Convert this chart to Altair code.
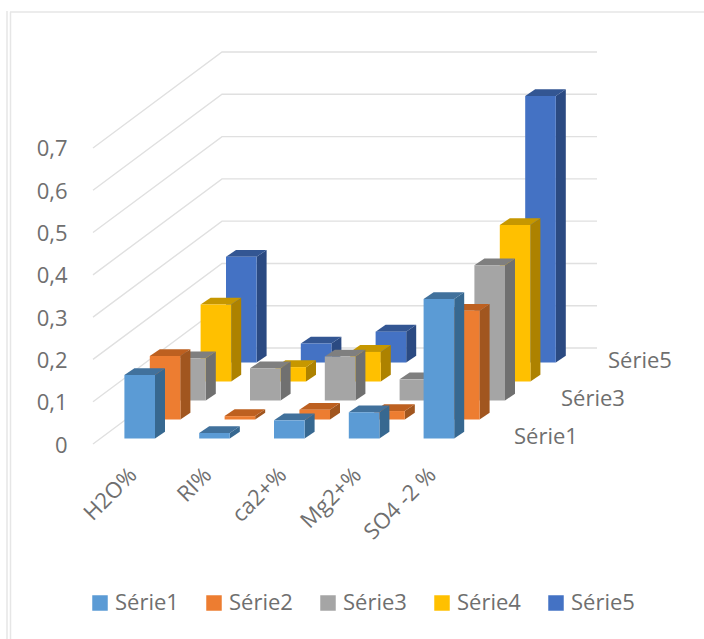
import altair as alt
import pandas as pd

# Percentages per analyte, one list per series
CATEGORIES = ["H2O%", "RI%", "ca2+%", "Mg2+%", "SO4 -2 %"]
SERIES = ["Série1", "Série2", "Série3", "Série4", "Série5"]
SERIE1 = [0.15, 0.013, 0.043, 0.062, 0.33]
SERIE2 = [0.15, 0.008, 0.023, 0.02, 0.257]
SERIE3 = [0.10, 0.076, 0.104, 0.05, 0.32]
SERIE4 = [0.182, 0.034, 0.07, 0.04, 0.37]
SERIE5 = [0.25, 0.045, 0.073, 0.05, 0.63]
VALUES = [SERIE1, SERIE2, SERIE3, SERIE4, SERIE5]
DEPTH_LABELS = ["Série1", "Série3", "Série5"]
Y_TICKS = [0, 0.1, 0.2, 0.3, 0.4, 0.5, 0.6, 0.7]

FRONT = ["#5b9bd5", "#ed7d31", "#a5a5a5", "#ffc000", "#4472c4"]
SIDE = ["#376890", "#a1561f", "#707070", "#ad8200", "#2b4a82"]
TOP = ["#41719c", "#bd6020", "#7f7f7f", "#c69700", "#335693"]
GRID = "#e0e0e0"
TEXT = "#6f6f6f"
FONT = "Open Sans"
FONT_SIZE = 22

# Oblique projection, in axis units: one category across, value units upward
PLOT_W, PLOT_H = 504, 392
PX_X = 1 / 74.8            # horizontal axis units per pixel
PX_Y = 1 / 423             # value units per pixel
BAR_W = 30.6 * PX_X
FIRST_X = 31.4 * PX_X
STEP_DX, STEP_DY = 25.4 * PX_X, 19 * PX_Y   # shift between series rows
GAP_DY = 5.5 * PX_Y                         # floor gap in front of a row
BAR_DX, BAR_DY = 10 * PX_X, 6.8 * PX_Y      # depth of a bar
WALL_DX, WALL_DY = 129 * PX_X, 96 * PX_Y    # floor depth up to the back wall
X_MAX = PLOT_W * PX_X
Y_MAX = max(Y_TICKS) + WALL_DY

x_scale = alt.Scale(domain=[0, X_MAX], nice=False, zero=False)
y_scale = alt.Scale(domain=[0, Y_MAX], nice=False, zero=False)
color_scale = alt.Scale(domain=SERIES, range=FRONT)

front_rows, side_rows, top_rows = [], [], []
for s, name in enumerate(SERIES):
    for c, cat in enumerate(CATEGORIES):
        v = VALUES[s][c]
        x0 = FIRST_X + c + s * STEP_DX
        x1 = x0 + BAR_W
        base = GAP_DY + s * STEP_DY
        top = base + v
        front_rows.append(dict(serie=name, cat=cat, x=x0, x2=x1, y=base, y2=top))
        side_rows.append(dict(serie=name, cat=cat, x=x1, y=base, y2=top))
        side_rows.append(dict(serie=name, cat=cat, x=x1 + BAR_DX, y=base + BAR_DY, y2=top + BAR_DY))
        top_rows.append(dict(serie=name, cat=cat, y=top, x=x0, x2=x1))
        top_rows.append(dict(serie=name, cat=cat, y=top + BAR_DY, x=x0 + BAR_DX, x2=x1 + BAR_DX))
front_df = pd.DataFrame(front_rows)
side_df = pd.DataFrame(side_rows)
top_df = pd.DataFrame(top_rows)

X = alt.X("x:Q", scale=x_scale, axis=None)
Y = alt.Y("y:Q", scale=y_scale, axis=None)

# Wall gridlines: along the left wall, then across the back wall
grid_rows = []
for i, t in enumerate(Y_TICKS):
    grid_rows += [
        dict(tick=t, order=0, x=0, y=t),
        dict(tick=t, order=1, x=WALL_DX, y=t + WALL_DY),
        dict(tick=t, order=2, x=X_MAX, y=t + WALL_DY),
    ]
grid = alt.Chart(pd.DataFrame(grid_rows)).mark_line(color=GRID, strokeWidth=1.4).encode(
    x=X, y=Y, detail="tick:N", order="order:Q",
)

# Value and category axes
label_array = "[" + ",".join(f"'{c}'" for c in CATEGORIES) + "]"
centres = [FIRST_X + BAR_W / 2 + c for c in range(len(CATEGORIES))]
axes = alt.Chart(pd.DataFrame({"x": centres, "y": [0.0] * len(centres)})).mark_point(opacity=0).encode(
    x=alt.X("x:Q", scale=x_scale, title=None, axis=alt.Axis(
        values=centres,
        labelExpr=f"{label_array}[round(datum.value - {centres[0]})]",
        labelAngle=-45, labelAlign="right", labelBaseline="middle",
        labelFont=FONT, labelFontSize=FONT_SIZE, labelColor=TEXT, labelPadding=27, labelOffset=-7,
        domain=False, ticks=False, grid=False, labelOverlap=False, labelBound=False, labelFlush=False)),
    y=alt.Y("y:Q", scale=y_scale, title=None, axis=alt.Axis(
        values=Y_TICKS,
        labelExpr="datum.value == 0 ? '0' : replace(format(datum.value, '.1f'), '.', ',')",
        labelFont=FONT, labelFontSize=FONT_SIZE, labelColor=TEXT, labelPadding=26, labelOffset=1,
        domain=False, ticks=False, grid=False)),
)

# Bars, painted from the back row to the front row
bar_layers = []
for s in reversed(range(len(SERIES))):
    name = SERIES[s]
    side = alt.Chart(side_df[side_df.serie == name]).mark_area(color=SIDE[s]).encode(
        x=X, y=Y, y2="y2:Q", detail="cat:N")
    top = alt.Chart(top_df[top_df.serie == name]).mark_area(color=TOP[s], orient="horizontal").encode(
        y=Y, x=X, x2="x2:Q", detail="cat:N")
    front = alt.Chart(front_df[front_df.serie == name]).mark_rect().encode(
        x=X, x2="x2:Q", y=Y, y2="y2:Q",
        color=alt.Color("serie:N", scale=color_scale, legend=alt.Legend(
            title=None, orient="none", legendX=-4, legendY=540, direction="horizontal", columns=5,
            symbolType="square", symbolSize=240, symbolStrokeWidth=0, symbolOpacity=1,
            labelFont=FONT, labelFontSize=FONT_SIZE, labelColor=TEXT, columnPadding=24, labelOffset=4)),
    )
    bar_layers += [side, top, front]

# Depth axis labels along the right side of the floor
depth_df = pd.DataFrame({
    "name": DEPTH_LABELS,
    "x": [(514 - 93 + 23.5 * SERIES.index(n)) * PX_X for n in DEPTH_LABELS],
    "y": [(444 - 437 + 19 * SERIES.index(n)) * PX_Y for n in DEPTH_LABELS],
})
depth_text = alt.Chart(depth_df).mark_text(
    font=FONT, fontSize=FONT_SIZE, color=TEXT, align="left", baseline="middle"
).encode(x=X, y=Y, text="name:N")

# Light frame around the chart area
frame_left_a = alt.Chart(pd.DataFrame({"k": [0]})).mark_rule(color="#e6e6e6", strokeWidth=1.5).encode(
    x=alt.value(-86), y=alt.value(-41), y2=alt.value(600))
frame_left_b = alt.Chart(pd.DataFrame({"k": [0]})).mark_rule(color="#e6e6e6", strokeWidth=1.5).encode(
    x=alt.value(-82.5), y=alt.value(-40), y2=alt.value(600))
frame_top = alt.Chart(pd.DataFrame({"k": [0]})).mark_rule(color="#e6e6e6", strokeWidth=1.5).encode(
    x=alt.value(-83), x2=alt.value(620), y=alt.value(-40))

chart = alt.layer(
    frame_left_a, frame_left_b, frame_top, grid, axes, *bar_layers, depth_text
).resolve_scale(x="shared", y="shared").resolve_axis(x="independent", y="independent").properties(
    width=PLOT_W, height=PLOT_H,
    padding={"left": 93, "top": 52, "right": 107, "bottom": 195},
    autosize=alt.AutoSizeParams(type="none"),
    background="white",
).configure_view(stroke=None)

chart.save("out.html", embed_options={"renderer": "svg", "actions": False})
